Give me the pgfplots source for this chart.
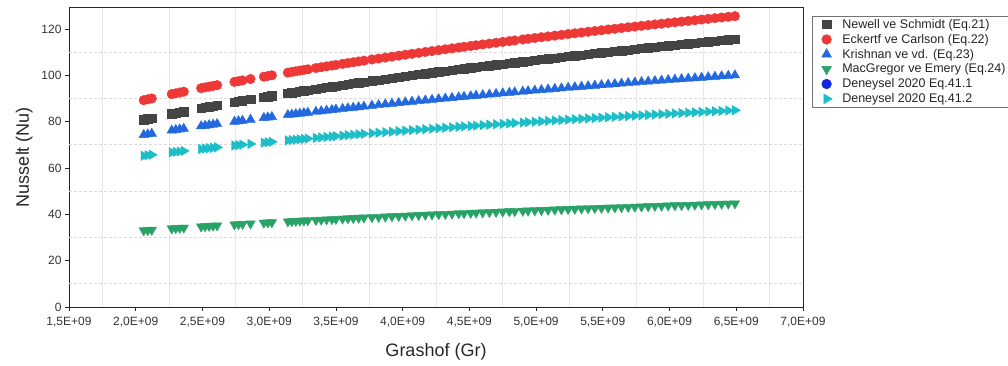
\documentclass[border=0pt]{standalone}
\usepackage{fontspec}
\setmainfont{Liberation Sans}
\usepackage{pgfplots}
\pgfplotsset{compat=1.18}
\usepackage{pgfplotstable}
\definecolor{cblack}{RGB}{68,68,68}
\definecolor{cred}{RGB}{238,56,56}
\definecolor{cblue}{RGB}{34,104,222}
\definecolor{cgreen}{RGB}{40,162,102}
\definecolor{cdeneyA}{RGB}{20,40,224}
\definecolor{ccyan}{RGB}{28,190,200}

\pgfplotstableread{
x R K B G C
2.06 89.27 80.89 74.31 33.03 65.29
2.09 89.64 81.25 74.58 33.15 65.51
2.12 90.02 81.61 74.86 33.27 65.72
2.27 91.89 83.39 76.22 33.89 66.77
2.30 92.24 83.72 76.47 34.00 66.97
2.33 92.59 84.06 76.72 34.11 67.16
2.36 92.94 84.39 76.97 34.23 67.36
2.49 94.45 85.83 78.07 34.72 68.20
2.52 94.79 86.15 78.31 34.83 68.39
2.55 95.11 86.46 78.54 34.94 68.57
2.58 95.44 86.77 78.77 35.04 68.75
2.61 95.77 87.08 79.01 35.15 68.93
2.74 97.18 88.42 80.02 35.60 69.72
2.77 97.49 88.71 80.25 35.71 69.89
2.80 97.80 89.01 80.47 35.80 70.06
2.86 98.41 89.59 80.91 36.00 70.40
2.96 99.42 90.56 81.64 36.33 70.96
2.99 99.73 90.85 81.86 36.43 71.12
3.02 100.02 91.13 82.07 36.52 71.29
3.14 101.18 92.23 82.89 36.90 71.92
3.17 101.47 92.51 83.10 36.99 72.08
3.20 101.76 92.78 83.31 37.08 72.24
3.23 102.05 93.06 83.51 37.18 72.39
3.26 102.33 93.33 83.71 37.27 72.55
3.29 102.60 93.59 83.91 37.36 72.70
3.35 103.15 94.11 84.30 37.53 73.00
3.39 103.51 94.46 84.56 37.65 73.19
3.43 103.87 94.81 84.82 37.77 73.39
3.47 104.24 95.16 85.08 37.88 73.59
3.50 104.51 95.42 85.27 37.97 73.74
3.55 104.95 95.83 85.57 38.11 73.98
3.59 105.29 96.16 85.82 38.22 74.17
3.63 105.64 96.49 86.06 38.34 74.36
3.67 105.99 96.82 86.31 38.45 74.55
3.71 106.34 97.15 86.55 38.56 74.73
3.77 106.84 97.64 86.92 38.72 75.01
3.82 107.26 98.03 87.21 38.85 75.23
3.87 107.67 98.43 87.51 38.99 75.45
3.92 108.08 98.83 87.80 39.12 75.67
3.97 108.49 99.22 88.09 39.25 75.90
4.02 108.90 99.61 88.38 39.38 76.11
4.07 109.29 99.99 88.66 39.51 76.33
4.12 109.69 100.37 88.94 39.63 76.54
4.17 110.09 100.75 89.22 39.76 76.75
4.22 110.48 101.12 89.49 39.88 76.96
4.27 110.87 101.50 89.77 40.01 77.17
4.32 111.25 101.86 90.04 40.13 77.38
4.37 111.63 102.22 90.30 40.25 77.58
4.42 112.01 102.59 90.57 40.37 77.78
4.46 112.31 102.88 90.79 40.47 77.95
4.51 112.68 103.24 91.05 40.59 78.15
4.55 112.97 103.52 91.26 40.69 78.30
4.60 113.34 103.87 91.51 40.80 78.50
4.65 113.70 104.22 91.77 40.92 78.69
4.70 114.07 104.57 92.02 41.03 78.89
4.75 114.43 104.92 92.28 41.15 79.08
4.80 114.78 105.26 92.53 41.26 79.27
4.84 115.06 105.53 92.73 41.35 79.42
4.90 115.49 105.94 93.02 41.49 79.65
4.94 115.77 106.20 93.22 41.58 79.79
4.99 116.12 106.54 93.47 41.69 79.98
5.04 116.46 106.87 93.71 41.80 80.16
5.09 116.80 107.20 93.95 41.90 80.34
5.14 117.14 107.52 94.19 42.01 80.52
5.19 117.48 107.85 94.42 42.12 80.70
5.24 117.82 108.17 94.66 42.23 80.88
5.29 118.15 108.49 94.89 42.33 81.06
5.34 118.48 108.81 95.12 42.44 81.23
5.39 118.81 109.12 95.35 42.54 81.40
5.44 119.14 109.44 95.58 42.65 81.57
5.49 119.46 109.76 95.81 42.75 81.75
5.54 119.78 110.06 96.04 42.85 81.91
5.59 120.10 110.37 96.26 42.95 82.08
5.64 120.42 110.68 96.48 43.05 82.25
5.69 120.74 110.98 96.70 43.15 82.42
5.74 121.06 111.29 96.93 43.25 82.59
5.79 121.37 111.59 97.14 43.35 82.75
5.84 121.67 111.88 97.36 43.45 82.91
5.89 121.98 112.18 97.57 43.54 83.07
5.94 122.29 112.47 97.78 43.64 83.24
5.99 122.60 112.77 98.00 43.74 83.40
6.04 122.90 113.06 98.21 43.84 83.55
6.09 123.20 113.35 98.41 43.93 83.71
6.14 123.49 113.64 98.62 44.02 83.87
6.19 123.79 113.92 98.83 44.12 84.02
6.24 124.09 114.21 99.04 44.21 84.18
6.29 124.38 114.49 99.24 44.30 84.33
6.34 124.68 114.77 99.44 44.40 84.48
6.39 124.97 115.05 99.65 44.49 84.64
6.44 125.26 115.33 99.85 44.58 84.79
6.49 125.55 115.61 100.05 44.67 84.94
}\data

\begin{document}
\begin{tikzpicture}
\useasboundingbox (0,0) rectangle (1008pt,365pt);
\begin{axis}[
  at={(69pt,58pt)}, anchor=south west,
  scale only axis, width=734pt, height=300pt,
  xmin=1.5, xmax=7, ymin=0, ymax=129.5,
  xtick={1.5,2,2.5,3,3.5,4,4.5,5,5.5,6,6.5,7},
  xticklabels={{1,5E+09},{2,0E+09},{2,5E+09},{3,0E+09},{3,5E+09},{4,0E+09},{4,5E+09},{5,0E+09},{5,5E+09},{6,0E+09},{6,5E+09},{7,0E+09}},
  minor xtick={1.75,2.25,2.75,3.25,3.75,4.25,4.75,5.25,5.75,6.25,6.75},
  ytick={0,20,40,60,80,100,120},
  xminorgrids=true,
  minor grid style={color=black!9, line width=0.7pt},
  extra y ticks={10,30,50,70,90,110},
  extra y tick labels={},
  extra y tick style={grid=major, major grid style={color=black!14, dash pattern=on 3pt off 2pt, line width=0.7pt}, major tick length=0pt},
  tick align=outside, tick pos=left,
  major tick length=4pt, minor tick length=0pt,
  axis line style={line width=0.8pt, black!85},
  tick style={black!85, line width=0.7pt},
  /pgf/number format/assume math mode=true,
  ticklabel style={font=\fontsize{12}{14}\selectfont, text=black!80},
  xticklabel style={yshift=-3pt},
  xlabel={Grashof (Gr)}, ylabel={Nusselt (Nu)},
  label style={font=\fontsize{18}{21}\selectfont, text=black!85},
  xlabel style={yshift=-9pt},
  ylabel style={yshift=-2pt},
  legend style={at={(1.012,0.97)}, anchor=north west, draw=black!55, line width=0.6pt,
    font=\fontsize{12.5}{14}\selectfont, row sep=0.3pt, inner xsep=2pt, inner ysep=1pt,
    text=black!85},
  legend cell align=left,
  legend image code/.code={\node[inner sep=0pt, minimum width=0.92cm, minimum height=1pt, anchor=west] at (0cm,0cm) {}; \draw[#1] plot coordinates {(0.45cm,0cm)};},
]
\addplot[only marks, mark=square*, mark size=4.2pt, color=cblack] table[x=x, y=K] {\data};
\addlegendentry{Newell ve Schmidt (Eq.21)}
\addplot[only marks, mark=*, mark size=4.8pt, color=cred] table[x=x, y=R] {\data};
\addlegendentry{Eckertf ve Carlson (Eq.22)}
\addplot[only marks, mark=triangle*, mark size=5.5pt, color=cblue] table[x=x, y=B] {\data};
\addlegendentry{Krishnan ve vd. (Eq.23)}
\addplot[only marks, mark=triangle*, mark size=5.5pt, color=cgreen, mark options={rotate=180}] table[x=x, y=G] {\data};
\addlegendentry{MacGregor ve Emery (Eq.24)}
\addlegendimage{only marks, mark=*, mark size=4.8pt, color=cdeneyA}
\addlegendentry{Deneysel 2020 Eq.41.1}
\addplot[only marks, mark=triangle*, mark size=5.5pt, color=ccyan, mark options={rotate=-90}] table[x=x, y=C] {\data};
\addlegendentry{Deneysel 2020 Eq.41.2}
\end{axis}
\end{tikzpicture}
\end{document}
